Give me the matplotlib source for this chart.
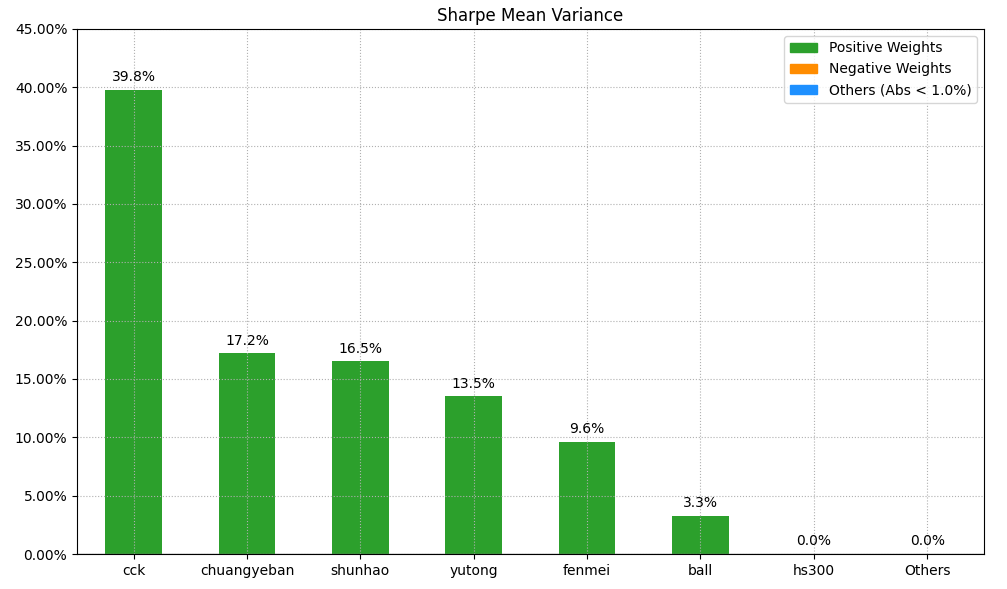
import matplotlib
matplotlib.use("Agg")
import matplotlib.pyplot as plt
from matplotlib.patches import Patch
from matplotlib.ticker import FuncFormatter

# --- data ---
assets = ["cck", "chuangyeban", "shunhao", "yutong", "fenmei", "ball", "hs300", "Others"]
weights = [0.398, 0.172, 0.165, 0.135, 0.096, 0.033, 0.0, 0.0]

pos_color = "#2ca02c"
neg_color = "#ff8c00"
oth_color = "#1e90ff"

fig = plt.figure(figsize=(10.07, 5.89), dpi=100)
ax = fig.add_axes([0.0765, 0.0594, 0.9005, 0.8915])

x = list(range(len(assets)))
colors = [pos_color if w >= 0 else neg_color for w in weights]
bars = ax.bar(x, weights, width=0.5, color=colors, zorder=1)

for b, w in zip(bars, weights):
    ax.annotate(f"{w*100:.1f}%", (b.get_x() + b.get_width()/2, b.get_height()),
                xytext=(0, 4), textcoords="offset points",
                ha="center", va="bottom", fontsize=10)

ax.axhline(0, color="gray", linewidth=1.0, zorder=2)
ax.set_xticks(x)
ax.set_xticklabels(assets)
ax.set_xlim(-0.5, len(assets) - 0.5)
ax.set_ylim(0, 0.45)
ax.set_yticks([i * 0.05 for i in range(10)])
ax.yaxis.set_major_formatter(FuncFormatter(lambda v, _: f"{v*100:.2f}%"))
ax.set_axisbelow(False)
ax.grid(True, linestyle=":", color="#b0b0b0", linewidth=0.8)
for sp in ax.spines.values():
    sp.set_zorder(5)
ax.set_title("Sharpe Mean Variance")

handles = [Patch(color=pos_color, label="Positive Weights"),
           Patch(color=neg_color, label="Negative Weights"),
           Patch(color=oth_color, label="Others (Abs < 1.0%)")]
ax.legend(handles=handles, loc="upper right")

fig.savefig("out.png", dpi=100)
